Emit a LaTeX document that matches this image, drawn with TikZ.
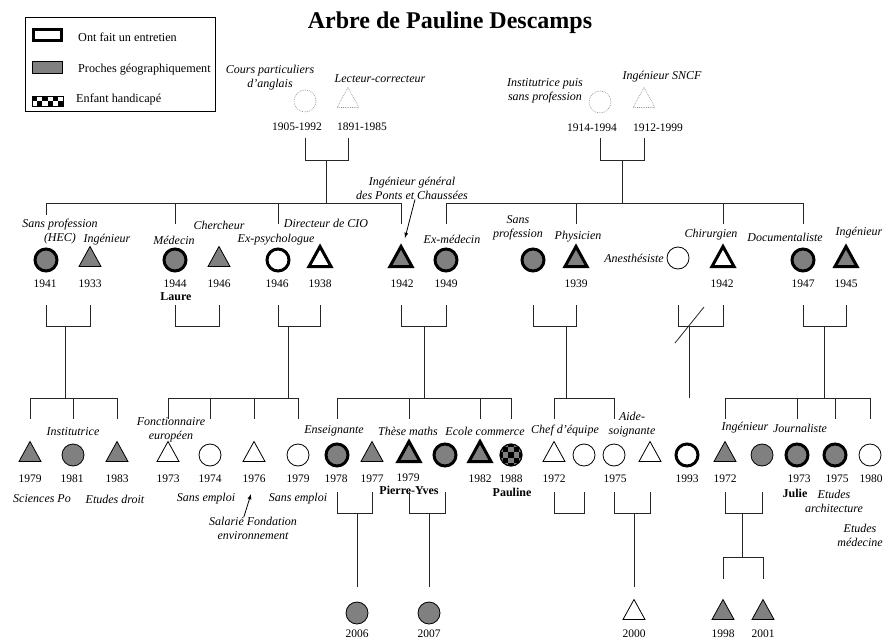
\documentclass[tikz,border=0pt]{standalone}
\usepackage{fontspec}
\setmainfont{Liberation Serif}
\usepackage{tikz}
\usetikzlibrary{calc}
\usetikzlibrary{shapes.geometric}

\definecolor{gris}{gray}{0.5}
\tikzset{
  personne/.style={draw, inner sep=0pt, outer sep=0pt, line width=0.8pt},
  femme/.style={personne, circle, minimum size=22pt},
  homme/.style={personne, isosceles triangle, shape border rotate=90,
    isosceles triangle stretches, minimum width=22pt, minimum height=20pt},
  entretien/.style={line width=3pt},
  proche/.style={fill=gris},
  ancetre/.style={draw=black!45, densely dotted, line width=0.6pt},
  annee/.style={inner sep=0pt, font=\fontsize{11.5}{13}\selectfont},
  metier/.style={inner sep=0pt, align=center, font=\fontsize{12}{14}\selectfont\itshape},
  prenom/.style={inner sep=0pt, font=\fontsize{12}{14}\selectfont\bfseries},
  legtexte/.style={inner sep=0pt, anchor=west, font=\fontsize{12.2}{14}\selectfont},
  lien/.style={draw=black!85, line width=0.8pt},
  fleche/.style={-latex, line width=0.8pt},
  damier/.style={path picture={
    \foreach \i in {-2,...,2} \foreach \j in {-2,...,2} {
      \pgfmathtruncatemacro{\pair}{mod(\i+\j+4,2)}
      \ifnum\pair=0
        \fill[black] ($(path picture bounding box.center)+(\i*5.5-2.75,\j*5.5-2.75)$) rectangle +(5.5,5.5);
      \fi}}},
}

\begin{document}
\begin{tikzpicture}[x=1pt,y=-1pt]
\useasboundingbox (0,0) rectangle (885,639);

\node[font=\fontsize{24}{28}\selectfont\bfseries] (titre) at (450,23) {Arbre de Pauline Descamps};

\node[draw, line width=0.8pt, minimum width=190pt, minimum height=94pt, inner sep=0pt] (legende) at (120,64) {};
\node[draw, line width=3pt, fill=white, minimum width=28pt, minimum height=11pt, inner sep=0pt] (legEntretien) at (47.5,35) {};
\node[draw, line width=0.8pt, fill=gris, minimum width=30pt, minimum height=12pt, inner sep=0pt] (legProche) at (47,67) {};
\node[draw, line width=0.8pt, minimum width=31pt, minimum height=10pt, inner sep=0pt,
  path picture={\foreach \i in {0,...,5} \foreach \j in {0,1} {
    \pgfmathtruncatemacro{\pair}{mod(\i+\j,2)}
    \ifnum\pair=0 \fill[black] ($(path picture bounding box.north west)+(\i*5.2,\j*5)$) rectangle +(5.2,5); \fi}}] (legHandicap) at (47.5,101) {};
\node[legtexte] (tEntretien) at (78,37) {Ont fait un entretien};
\node[legtexte] (tProche) at (78,70) {Proches géographiquement};
\node[legtexte] (tHandicap) at (76,100) {Enfant handicapé};

\coordinate (n1h) at (0,138);
\coordinate (n1b) at (0,160);
\coordinate (f1) at (0,203);
\coordinate (f1c) at (0,215);
\coordinate (f1b) at (0,224);
\coordinate (n2h) at (0,305);
\coordinate (n2b) at (0,326);
\coordinate (f2) at (0,398);
\coordinate (f2b) at (0,419);
\coordinate (n3h) at (0,492);
\coordinate (n3b) at (0,513);
\coordinate (f3) at (0,557);
\coordinate (f3b) at (0,579);
\coordinate (f4b) at (0,587);

\node[femme, ancetre] (gmA) at (305,101) {};
\node[homme, ancetre] (gpA) at (348,101) {};
\node[femme, ancetre] (gmB) at (600,102) {};
\node[homme, ancetre] (gpB) at (644,101) {};
\node[metier] (mGmA) at (270,78) {Cours particuliers\\d’anglais};
\node[metier] (mGpA) at (380,79) {Lecteur-correcteur};
\node[metier] (mGmB) at (545,91) {Institutrice puis\\sans profession};
\node[metier] (mGpB) at (662,77) {Ingénieur SNCF};
\node[annee] (aGmA) at (297,127) {1905-1992};
\node[annee] (aGpA) at (362,127) {1891-1985};
\node[annee] (aGmB) at (592,128) {1914-1994};
\node[annee] (aGpB) at (658,128) {1912-1999};
\coordinate (dA) at ($(gmA)!.5!(gpA)$);
\coordinate (dB) at ($(gmB)!.5!(gpB)$);

\node[femme, entretien, proche] (p1) at (46,260) {};
\node[homme, proche] (p2) at (90,260) {};
\node[femme, entretien, proche] (p3) at (175,260) {};
\node[homme, proche] (p4) at (219,260) {};
\node[femme, entretien, fill=white] (p5) at (278,260) {};
\node[homme, entretien, fill=white] (p6) at (320,260) {};
\node[homme, entretien, proche] (p7) at (401,260) {};
\node[femme, entretien, proche] (p8) at (446,260) {};
\node[femme, entretien, proche] (p9) at (533,260) {};
\node[homme, entretien, proche] (p10) at (576,260) {};
\node[femme, fill=white] (p11) at (678,258) {};
\node[homme, entretien, fill=white] (p12) at (723,260) {};
\node[femme, entretien, proche] (p13) at (803,260) {};
\node[homme, entretien, proche] (p14) at (846,260) {};

\node[metier] (mP1) at (60,232) {Sans profession\\(HEC)};
\node[metier] (mP2) at (107,240) {Ingénieur};
\node[metier] (mP3) at (174,240) {Médecin};
\node[metier] (mP4) at (219,225) {Chercheur};
\node[metier] (mP5) at (276,240) {Ex-psychologue};
\node[metier] (mP6) at (326,223) {Directeur de CIO};
\node[metier] (mP7) at (412,188) {Ingénieur général\\des Ponts et Chaussées};
\node[metier] (mP8) at (452,239) {Ex-médecin};
\node[metier] (mP9) at (518,228) {Sans\\profession};
\node[metier] (mP10) at (578,237) {Physicien};
\node[metier] (mP11) at (634,258) {Anesthésiste};
\node[metier] (mP12) at (711,235) {Chirurgien};
\node[metier] (mP13) at (785,237) {Documentaliste};
\node[metier] (mP14) at (859,233) {Ingénieur};

\node[annee] (aP1) at (45,284) {1941};
\node[annee] (aP2) at (90,284) {1933};
\node[annee] (aP3) at (175,284) {1944};
\node[annee] (aP4) at (219,284) {1946};
\node[annee] (aP5) at (277,284) {1946};
\node[annee] (aP6) at (320,284) {1938};
\node[annee] (aP7) at (402,284) {1942};
\node[annee] (aP8) at (446,284) {1949};
\node[annee] (aP10) at (576,284) {1939};
\node[annee] (aP12) at (722,284) {1942};
\node[annee] (aP13) at (803,284) {1947};
\node[annee] (aP14) at (846,284) {1945};
\node[prenom] (laure) at (176,297) {Laure};

\coordinate (pIGPC) at (405,238);
\draw[fleche] ([xshift=3pt]mP7.south) -- (pIGPC);

\coordinate (d1) at (65,326);
\coordinate (d5) at (288,326);
\coordinate (d7) at (424,326);
\coordinate (d9) at (566,326);
\coordinate (d11) at (689,326);
\coordinate (d13) at (824,326);

\node[homme, proche] (c1) at (30,455) {};
\node[femme, proche] (c2) at (73,455) {};
\node[homme, proche] (c3) at (117,455) {};
\node[homme, fill=white] (c4) at (168,455) {};
\node[femme, fill=white] (c5) at (210,455) {};
\node[homme, fill=white] (c6) at (254,455) {};
\node[femme, fill=white] (c7) at (298,455) {};
\node[femme, entretien, proche] (c8) at (337,455) {};
\node[homme, proche] (c9) at (372,455) {};
\node[homme, entretien, proche] (c10) at (409,455) {};
\node[femme, entretien, proche] (c11) at (445,455) {};
\node[homme, entretien, proche] (c12) at (480,455) {};
\node[femme, proche, damier, line width=1.2pt] (c13) at (511,455) {};
\node[homme, fill=white] (c14) at (554,455) {};
\node[femme, fill=white] (c15) at (584,455) {};
\node[femme, fill=white] (c16) at (614,455) {};
\node[homme, fill=white] (c17) at (650,455) {};
\node[femme, entretien, fill=white] (c18) at (687,455) {};
\node[homme, proche] (c19) at (725,455) {};
\node[femme, proche] (c20) at (762,455) {};
\node[femme, entretien, proche] (c21) at (797,455) {};
\node[femme, entretien, proche] (c22) at (835,455) {};
\node[femme, fill=white] (c23) at (870,455) {};

\node[annee] (aC1) at (30,479) {1979};
\node[annee] (aC2) at (72,479) {1981};
\node[annee] (aC3) at (117,479) {1983};
\node[annee] (aC4) at (168,479) {1973};
\node[annee] (aC5) at (210,479) {1974};
\node[annee] (aC6) at (254,479) {1976};
\node[annee] (aC7) at (298,479) {1979};
\node[annee] (aC8) at (336,479) {1978};
\node[annee] (aC9) at (372,479) {1977};
\node[annee] (aC10) at (408,478) {1979};
\node[annee] (aC12) at (480,479) {1982};
\node[annee] (aC13) at (511,479) {1988};
\node[annee] (aC14) at (554,479) {1972};
\node[annee] (aC16) at (615,479) {1975};
\node[annee] (aC18) at (687,479) {1993};
\node[annee] (aC19) at (725,479) {1972};
\node[annee] (aC21) at (799,479) {1973};
\node[annee] (aC22) at (837,479) {1975};
\node[annee] (aC23) at (871,479) {1980};

\node[metier] (mC2) at (73,432) {Institutrice};
\node[metier] (mC4) at (171,430) {Fonctionnaire\\européen};
\node[metier] (mC1) at (42,499) {Sciences Po};
\node[metier] (mC3) at (115,499) {Etudes droit};
\node[metier] (mC5) at (206,499) {Sans emploi};
\node[metier] (mC7) at (298,499) {Sans emploi};
\node[metier] (mSal) at (253,528) {Salarié Fondation\\environnement};
\node[metier] (mC8) at (334,431) {Enseignante};
\node[metier] (mC10) at (408,431) {Thèse maths};
\node[metier] (mC12) at (485,431) {Ecole commerce};
\node[metier] (mC14) at (565,431) {Chef d’équipe};
\node[metier] (mC16) at (632,425) {Aide-\\soignante};
\node[metier] (mC19) at (745,428) {Ingénieur};
\node[metier] (mC20) at (800,428) {Journaliste};
\node[metier] (mC22) at (834,501) {Etudes\\architecture};
\node[metier] (mC23) at (860,535) {Etudes\\médecine};
\node[prenom] (pierreyves) at (409,490) {Pierre-Yves};
\node[prenom] (pauline) at (512,492) {Pauline};
\node[prenom] (julie) at (795,493) {Julie};

\coordinate (pSal) at (251,494);
\draw[fleche] ([xshift=-9pt]mSal.north) -- (pSal);

\coordinate (d19) at (742,513);
\node[femme, proche] (k1) at (357,613) {};
\node[femme, proche] (k2) at (429,613) {};
\node[homme, fill=white] (k3) at (634,613) {};
\node[homme, proche] (k4) at (723,613) {};
\node[homme, proche] (k5) at (763,613) {};
\node[annee] (aK1) at (357,634) {2006};
\node[annee] (aK2) at (429,634) {2007};
\node[annee] (aK3) at (634,634) {2000};
\node[annee] (aK4) at (723,634) {1998};
\node[annee] (aK5) at (763,634) {2001};

\draw[lien] (gmA |- n1h) -- (gmA |- n1b) -- (gpA |- n1b) -- (gpA |- n1h);
\draw[lien] (gmB |- n1h) -- (gmB |- n1b) -- (gpB |- n1b) -- (gpB |- n1h);
\draw[lien] (dA |- n1b) -- (dA |- f1);
\draw[lien] (dB |- n1b) -- (dB |- f1);
\draw[lien] (p1 |- f1) -- (p7 |- f1);
\draw[lien] (p8 |- f1) -- (p13 |- f1);
\draw[lien] (p1 |- f1) -- (p1 |- f1c);
\foreach \e in {p3,p5,p7,p8,p10,p12,p13}
  \draw[lien] (\e |- f1) -- (\e |- f1b);

\foreach \a/\b in {p1/p2,p3/p4,p5/p6,p7/p8,p9/p10,p11/p12,p13/p14}
  \draw[lien] (\a |- n2h) -- (\a |- n2b) -- (\b |- n2b) -- (\b |- n2h);
\foreach \d in {d1,d5,d7,d9,d11,d13}
  \draw[lien] (\d) -- (\d |- f2);
\draw[lien] (675,343) -- (704,307);

\draw[lien] (c1 |- f2) -- (c3 |- f2);
\draw[lien] (c4 |- f2) -- (c7 |- f2);
\draw[lien] (c8 |- f2) -- (c13 |- f2);
\draw[lien] (c14 |- f2) -- (c16 |- f2);
\draw[lien] (c19 |- f2) -- (c23 |- f2);
\foreach \e in {c1,c2,c3,c4,c5,c6,c7,c8,c10,c12,c13,c14,c16,c19,c21,c22,c23}
  \draw[lien] (\e |- f2) -- (\e |- f2b);

\foreach \a/\b in {c8/c9,c10/c11,c14/c15,c16/c17,c19/c20}
  \draw[lien] (\a |- n3h) -- (\a |- n3b) -- (\b |- n3b) -- (\b |- n3h);
\foreach \e in {k1,k2,k3}
  \draw[lien] (\e |- n3b) -- (\e |- f4b);
\draw[lien] (d19) -- (d19 |- f3);
\draw[lien] (k4 |- f3b) -- (k4 |- f3) -- (k5 |- f3) -- (k5 |- f3b);
\end{tikzpicture}
\end{document}
